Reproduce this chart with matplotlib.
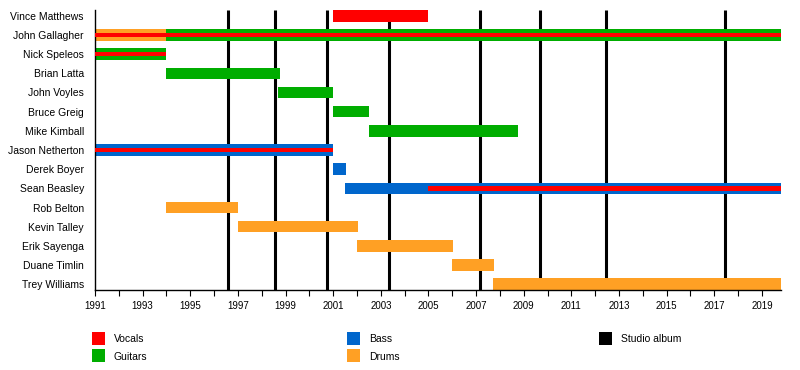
import matplotlib
matplotlib.use('Agg')
import matplotlib.pyplot as plt
from matplotlib.patches import Rectangle

plt.rcParams['font.family'] = ['Liberation Sans', 'DejaVu Sans']

# ── Data ───────────────────────────────────────────────────────────────────
members = ['Vince Matthews', 'John Gallagher', 'Nick Speleos', 'Brian Latta',
           'John Voyles', 'Bruce Greig', 'Mike Kimball', 'Jason Netherton',
           'Derek Boyer', 'Sean Beasley', 'Rob Belton', 'Kevin Talley',
           'Erik Sayenga', 'Duane Timlin', 'Trey Williams']

END = 2019.8

# main bars: member, role, start, end
bar_member = ['Vince Matthews', 'John Gallagher', 'John Gallagher', 'Nick Speleos',
              'Brian Latta', 'John Voyles', 'Bruce Greig', 'Mike Kimball',
              'Jason Netherton', 'Derek Boyer', 'Sean Beasley', 'Rob Belton',
              'Kevin Talley', 'Erik Sayenga', 'Duane Timlin', 'Trey Williams']
bar_role = ['Vocals', 'Drums', 'Guitars', 'Guitars',
            'Guitars', 'Guitars', 'Guitars', 'Guitars',
            'Bass', 'Bass', 'Bass', 'Drums',
            'Drums', 'Drums', 'Drums', 'Drums']
bar_start = [2001.0, 1991.0, 1994.0, 1991.0,
             1994.0, 1998.7, 2001.0, 2002.5,
             1991.0, 2001.0, 2001.5, 1994.0,
             1997.0, 2002.0, 2006.0, 2007.7]
bar_end = [2005.0, 1994.0, END, 1994.0,
           1998.75, 2001.0, 2002.5, 2008.75,
           2001.0, 2001.55, END, 1997.0,
           2002.05, 2006.05, 2007.75, END]

# secondary vocal stripes
stripe_member = ['John Gallagher', 'Nick Speleos', 'Jason Netherton', 'Sean Beasley']
stripe_start = [1991.0, 1991.0, 1991.0, 2005.0]
stripe_end = [END, 1994.0, 2001.0, END]

albums = [1996.58, 1998.56, 2000.74, 2003.34, 2007.16, 2009.68, 2012.45, 2017.45]

colors = {'Vocals': '#FF0000', 'Guitars': '#00AD00', 'Bass': '#0066CC',
          'Drums': '#FFA024', 'Studio album': '#000000'}

# ── Figure ─────────────────────────────────────────────────────────────────
fig = plt.figure(figsize=(8, 3.7), dpi=100)
ax = fig.add_axes([95 / 800, 1 - 290 / 370, 686 / 800, 280 / 370])

row = {m: i for i, m in enumerate(members)}

ax.vlines(albums, -0.3, len(members) - 0.7, color='black', lw=2.2, zorder=1)

for m, r, s, e in zip(bar_member, bar_role, bar_start, bar_end):
    ax.barh(row[m], e - s, left=s, height=0.6, color=colors[r], lw=0, zorder=2)
for m, s, e in zip(stripe_member, stripe_start, stripe_end):
    ax.barh(row[m], e - s, left=s, height=0.24, color=colors['Vocals'], lw=0, zorder=3)

ax.set_xlim(1991, END)
ax.set_ylim(len(members) - 0.7, -0.3)
ax.set_yticks(range(len(members)))
ax.set_yticklabels(members, fontsize=7.5)
ax.tick_params(axis='y', length=0, pad=8)
ax.set_xticks(range(1991, 2020, 2))
ax.set_xticks(range(1991, 2020), minor=True)
ax.tick_params(axis='x', which='both', direction='out', length=4, width=0.8,
               labelsize=7, pad=4)
for s in ['top', 'right']:
    ax.spines[s].set_visible(False)
for s in ['left', 'bottom']:
    ax.spines[s].set_linewidth(1.0)

# ── Legend ─────────────────────────────────────────────────────────────────
legend_items = [('Vocals', 92, 338), ('Guitars', 92, 355),
                ('Bass', 347, 338), ('Drums', 347, 355),
                ('Studio album', 599, 338)]
for label, px, py in legend_items:
    fig.add_artist(Rectangle((px / 800, 1 - (py + 6.5) / 370), 13 / 800, 13 / 370,
                             transform=fig.transFigure, color=colors[label], lw=0))
    fig.text((px + 22) / 800, 1 - (py + 1.5) / 370, label, fontsize=7.5,
             va='center', ha='left')

fig.savefig('out.png', dpi=100, facecolor='white')
